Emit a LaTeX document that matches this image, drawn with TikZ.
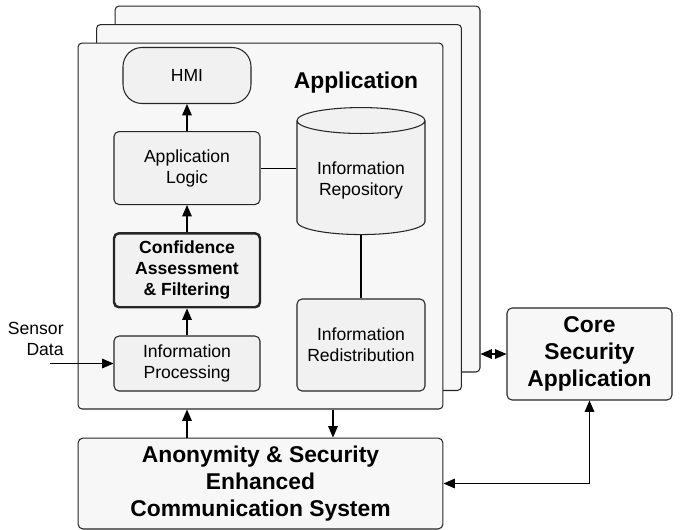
\documentclass[tikz,border=0pt]{standalone}
\usepackage{fontspec}
\setmainfont{Liberation Sans}
\usepackage{tikz}
\usetikzlibrary{shapes,arrows.meta,positioning,fit,backgrounds,calc}

\begin{document}
\begin{tikzpicture}[
    x=0.02cm, y=-0.02cm,
    node distance=0.54cm,
    line width=0.6pt,
    every node/.style={font=\fontsize{10}{12}\selectfont},
    stackbox/.style={rectangle, draw=black!85, fill=gray!6, minimum width=7.3cm, minimum height=7.32cm, rounded corners=0.08cm},
    block/.style={rectangle, draw=black!85, fill=gray!11, minimum width=2.92cm, align=center, rounded corners=0.1cm},
    bigblock/.style={rectangle, draw=black!85, fill=gray!6, align=center, rounded corners=0.1cm, inner sep=2pt, font=\fontsize{13}{15.4}\selectfont\bfseries},
    repo/.style={cylinder, shape border rotate=90, aspect=0.26, draw=black!85, fill=gray!11, minimum width=2.56cm, minimum height=2.54cm, align=center},
    arrow/.style={-{Triangle[length=6.5pt, width=5.5pt]}},
    dblarrow/.style={{Triangle[length=6.5pt, width=5.5pt]}-{Triangle[length=6.5pt, width=5.5pt]}}
]

\useasboundingbox (0,0) rectangle (682,529);

\foreach \k/\nm in {2/appback, 1/appmid, 0/appfront}
    \node[stackbox] (\nm) at ({260.5+18.5*\k}, {226-18.5*\k}) {};

\node[font=\fontsize{13}{15.4}\selectfont\bfseries] (apptitle) at (356,83) {Application};

\node[block, minimum height=1.1cm] (infoproc) at (187,363.5) {Information\\Processing};

\node[block, above=of infoproc, minimum height=1.48cm, line width=1.4pt, font=\fontsize{10}{12}\selectfont\bfseries] (conf) {Confidence\\Assessment\\\& Filtering};

\node[block, above=of conf, minimum height=1.46cm] (applogic) {Application\\Logic};

\node[block, above=of applogic, minimum width=2.56cm, minimum height=1.12cm, rounded corners=0.38cm] (hmi) {HMI};

\node[repo] (inforepo) at (361,180.5) {Information\\Repository};

\node[block, minimum width=2.56cm, minimum height=1.84cm] (redist) at (361,345) {Information\\Redistribution};

\node[bigblock, minimum width=3.3cm, minimum height=1.84cm] (core) at (589.5,354) {Core\\Security\\Application};

\node[bigblock, below=0.56cm of appfront, minimum width=7.3cm, minimum height=1.82cm] (anon) {Anonymity \& Security\\Enhanced\\Communication System};

\node[anchor=east, align=right] (sensor) at (70,339) {Sensor\\Data};
\coordinate (sensorin) at (50,363.5);

\draw[arrow] (infoproc) -- (conf);
\draw[arrow] (conf) -- (applogic);
\draw[arrow] (applogic) -- (hmi);
\draw (applogic.east) -- (applogic.east -| inforepo.west);
\draw (inforepo) -- (redist);
\draw[arrow] (sensorin) -- (infoproc.west);
\draw[arrow] (anon.north -| infoproc.south) -- (appfront.south -| infoproc.south);
\draw[arrow] ([xshift=1.45cm]appfront.south) -- ([xshift=1.45cm]appfront.south |- anon.north);
\draw[dblarrow] (appback.east |- core.west) -- (core.west);
\draw[dblarrow] (anon.east) -| (core.south);

\end{tikzpicture}
\end{document}
